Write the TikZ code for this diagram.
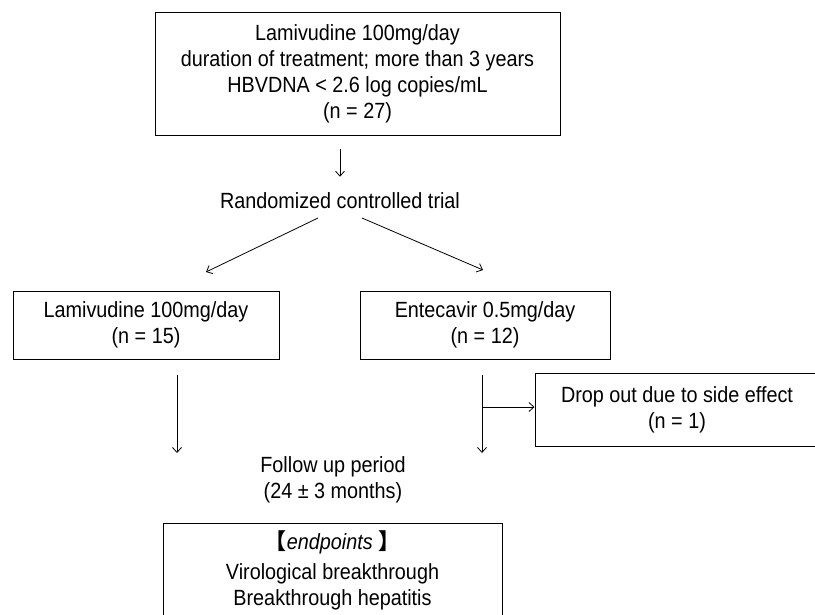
\documentclass[tikz,border=0pt]{standalone}
\usepackage{fontspec}
\setmainfont{Liberation Sans}[FakeStretch=0.9]
\newfontfamily\cjk{Noto Sans CJK JP}
\usetikzlibrary{arrows.meta}
\begin{document}
\begin{tikzpicture}[x=1pt,y=-1pt,
  box/.style={draw, line width=1pt, inner sep=0pt, align=center, font=\fontsize{22}{26}\selectfont},
  txt/.style={inner sep=0pt, align=center, font=\fontsize{22}{26}\selectfont},
  arr/.style={line width=0.8pt, -{Straight Barb[length=5pt,width=9pt,line width=0.8pt]}},
  ln/.style={line width=0.8pt}]
\useasboundingbox (0,0) rectangle (815,614);
\clip (0,0) rectangle (815,614);
\fill[white] (0,0) rectangle (815,614);

% boxes and texts
\node[box, minimum width=405, minimum height=123] (top) at (357.5,73.5)
  {Lamivudine 100mg/day\\duration of treatment; more than 3 years\\HBVDNA < 2.6 log copies/mL\\(n = 27)};
\node[txt] (rct) at (340,201) {Randomized controlled trial};
\node[box, minimum width=266, minimum height=68] (lam) at (146,325) {Lamivudine 100mg/day\\(n = 15)};
\node[box, minimum width=250, minimum height=68] (ent) at (485,325) {Entecavir 0.5mg/day\\(n = 12)};
\node[box, minimum width=284, minimum height=73] (drop) at (677,409.5) {Drop out due to side effect\\(n = 1)};
\node[txt] (fu) at (333,479.5) {Follow up period\\(24 ± 3 months)};
\node[box, minimum width=339, minimum height=117] (epbox) at (332.5,581.5) {};
\node[txt] (ept) at (332.5,570) {{\cjk\bfseries 【}\textit{endpoints} {\cjk\bfseries 】}\\[4pt]Virological breakthrough\\Breakthrough hepatitis};

% free ends of connectors
\coordinate (ls) at (318,218);
\coordinate (le) at (206,272);
\coordinate (rs) at (362,218);
\coordinate (re) at (483,270);
\coordinate (l1) at (177,375);
\coordinate (l2) at (177,453);
\coordinate (r1) at (482,375);
\coordinate (r2) at (482,453);
\coordinate (br) at (482,407);

% connectors
\draw[arr, shorten <=13pt, shorten >=16pt] (top.south -| rct.north) -- (rct.north);
\draw[arr] (ls) -- (le);
\draw[arr] (rs) -- (re);
\draw[arr] (l1) -- (l2);
\draw[arr] (r1) -- (r2);
\draw[arr] (br) -- (br -| drop.west);
\end{tikzpicture}
\end{document}
